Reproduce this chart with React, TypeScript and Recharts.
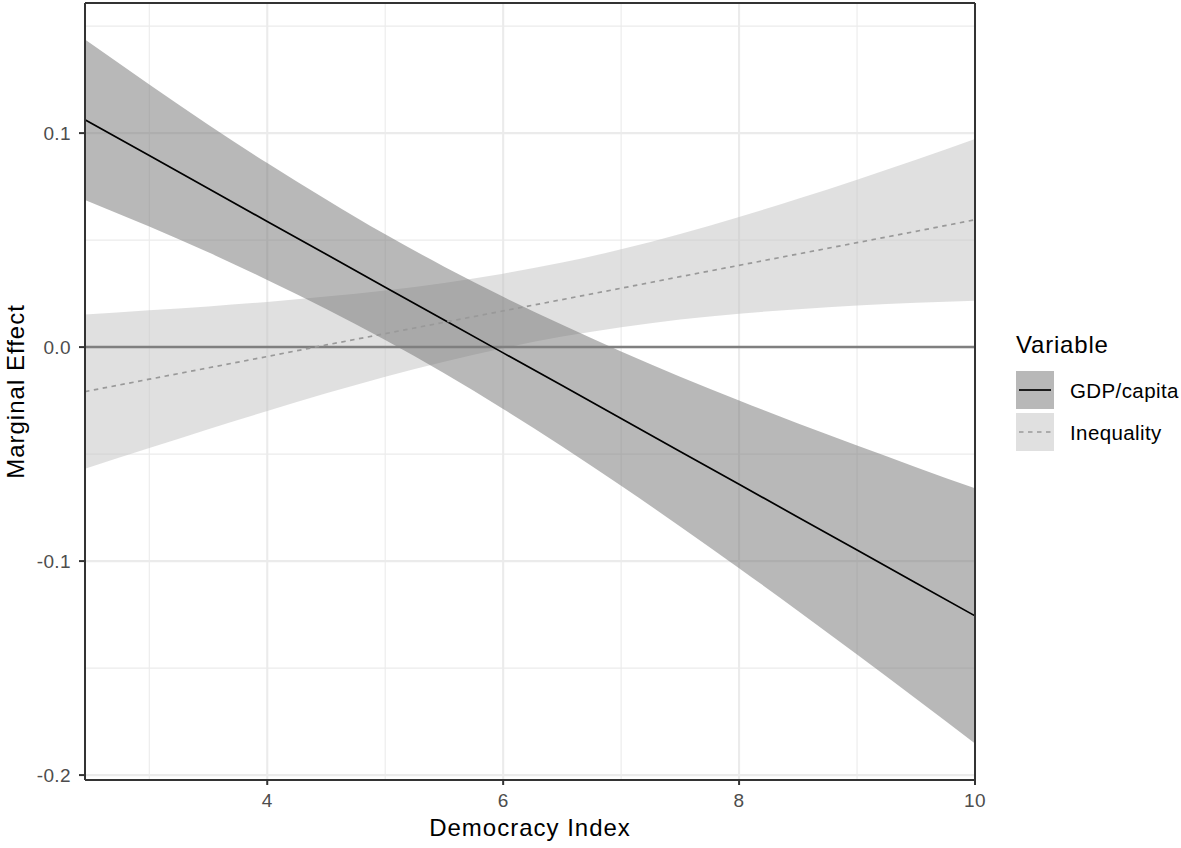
import { Area, CartesianGrid, ComposedChart, Line, ReferenceLine, XAxis, YAxis } from "recharts";

// democracy index values where the marginal effects were read
const democracyIndex = [2.455, 3, 3.5, 4, 4.5, 5, 5.5, 6, 6.5, 7, 7.5, 8, 8.5, 9, 9.5, 10];

const gdpEffect = [0.1062, 0.0895, 0.0741, 0.0587, 0.0434, 0.028, 0.0127, -0.0027, -0.018, -0.0334, -0.0488, -0.0641, -0.0795, -0.0948, -0.1102, -0.1256];
const gdpLower = [0.0687, 0.0563, 0.0443, 0.0314, 0.0178, 0.0033, -0.0122, -0.0289, -0.0464, -0.0648, -0.0838, -0.1033, -0.1233, -0.1436, -0.1643, -0.1852];
const gdpUpper = [0.1437, 0.1227, 0.1039, 0.086, 0.069, 0.0527, 0.0376, 0.0235, 0.0104, -0.002, -0.0138, -0.0249, -0.0357, -0.046, -0.0561, -0.066];

const inequalityEffect = [-0.0208, -0.015, -0.0097, -0.0044, 0.001, 0.0063, 0.0116, 0.0169, 0.0222, 0.0275, 0.0329, 0.0382, 0.0435, 0.0488, 0.0541, 0.0595];
const inequalityLower = [-0.0568, -0.0472, -0.0384, -0.0299, -0.0216, -0.0138, -0.0068, -0.0005, 0.0049, 0.0093, 0.0129, 0.0156, 0.0177, 0.0194, 0.0207, 0.0217];
const inequalityUpper = [0.0152, 0.0172, 0.019, 0.0211, 0.0236, 0.0264, 0.03, 0.0343, 0.0395, 0.0457, 0.0529, 0.0608, 0.0693, 0.0782, 0.0875, 0.0973];

const xDomain = [2.455, 10];
const yDomain = [-0.2023, 0.1608];
const xMajorTicks = [4, 6, 8, 10];
const xMinorTicks = [3, 5, 7, 9];
const yMajorTicks = [-0.2, -0.1, 0, 0.1];
const yMinorTicks = [-0.15, -0.05, 0.05, 0.15];

const legendItems = ["GDP/capita", "Inequality"];

const data = democracyIndex.map((x, i) => ({
  x,
  gdp: gdpEffect[i],
  gdpBand: [gdpLower[i], gdpUpper[i]],
  inequality: inequalityEffect[i],
  inequalityBand: [inequalityLower[i], inequalityUpper[i]]
}));

const FONT = '"Liberation Sans", Arial, sans-serif';
const GDP_FILL = "#717171";
const INEQ_FILL = "#c1c1c1";
const INEQ_LINE = "#999999";

function XTitle({ viewBox }: any) {
  const cx = viewBox.x + viewBox.width / 2;
  return (
    <text x={cx} y={836} textAnchor="middle" fontSize={24} letterSpacing={1} fill="#000" fontFamily={FONT}>
      Democracy Index
    </text>
  );
}

function YTitle({ viewBox }: any) {
  const cy = viewBox.y + viewBox.height / 2;
  const x = 23.5;
  return (
    <text
      x={x}
      y={cy}
      transform={`rotate(-90 ${x} ${cy})`}
      textAnchor="middle"
      fontSize={24}
      letterSpacing={1}
      fill="#000"
      fontFamily={FONT}
    >
      Marginal Effect
    </text>
  );
}

function LegendOverlay() {
  return (
    <svg width={1181} height={848} style={{ position: "absolute", left: 0, top: 0, pointerEvents: "none" }}>
      <text x={1016} y={353} fontSize={24} letterSpacing={0.8} fill="#000" fontFamily={FONT}>
        Variable
      </text>
      {legendItems.map((name, i) => {
        const top = 371 + i * 42;
        const mid = top + 19;
        return (
          <g key={name}>
            <rect x={1016} y={top} width={38} height={38} fill={i === 0 ? GDP_FILL : INEQ_FILL} fillOpacity={0.5} />
            <line
              x1={1019}
              x2={1051}
              y1={mid}
              y2={mid}
              stroke={i === 0 ? "#000" : INEQ_LINE}
              strokeWidth={1.7}
              strokeDasharray={i === 0 ? undefined : "4.5 4.5"}
            />
            <text x={1070} y={mid + 8} fontSize={20.5} letterSpacing={0.4} fill="#000" fontFamily={FONT}>
              {name}
            </text>
          </g>
        );
      })}
    </svg>
  );
}

export default function App() {
  const tickStyle = { fill: "#4d4d4d", fontSize: 19, fontFamily: FONT, letterSpacing: 0.4 };
  const dark = { stroke: "#333333", strokeWidth: 2 };
  return (
    <div style={{ position: "absolute", left: 0, top: 0, width: 1181, height: 848, background: "#fff", fontFamily: FONT }}>
      <ComposedChart width={1181} height={848} data={data} margin={{ top: 2, right: 205, bottom: 0, left: 0 }}>
        <XAxis xAxisId="minor" type="number" dataKey="x" domain={xDomain} ticks={xMinorTicks} allowDataOverflow hide />
        <YAxis yAxisId="minor" type="number" domain={yDomain} ticks={yMinorTicks} allowDataOverflow hide />
        <CartesianGrid xAxisId="minor" yAxisId="minor" stroke="#ebebeb" strokeWidth={1.1} />
        <CartesianGrid stroke="#ebebeb" strokeWidth={2.1} />

        <Area type="monotone" dataKey="inequalityBand" stroke="none" fill={INEQ_FILL} fillOpacity={0.5} isAnimationActive={false} activeDot={false} />
        <Area type="monotone" dataKey="gdpBand" stroke="none" fill={GDP_FILL} fillOpacity={0.5} isAnimationActive={false} activeDot={false} />
        <ReferenceLine y={0} stroke="#7f7f7f" strokeWidth={2.5} />
        <Line type="linear" dataKey="gdp" stroke="#000" strokeWidth={1.7} dot={false} activeDot={false} isAnimationActive={false} />
        <Line
          type="linear"
          dataKey="inequality"
          stroke={INEQ_LINE}
          strokeWidth={1.7}
          strokeDasharray="4.5 4.5"
          dot={false}
          activeDot={false}
          isAnimationActive={false}
        />

        <XAxis
          dataKey="x"
          type="number"
          domain={xDomain}
          ticks={xMajorTicks}
          interval={0}
          allowDataOverflow
          height={68}
          tickSize={5}
          tickMargin={9}
          tick={tickStyle}
          tickLine={dark}
          axisLine={dark}
          label={<XTitle />}
        />
        <YAxis
          type="number"
          domain={yDomain}
          ticks={yMajorTicks}
          interval={0}
          allowDataOverflow
          width={85}
          tickSize={6}
          tickMargin={8}
          tick={tickStyle}
          tickLine={dark}
          axisLine={dark}
          tickFormatter={(v: number) => v.toFixed(1)}
          label={<YTitle />}
        />
        <XAxis
          xAxisId="top"
          orientation="top"
          type="number"
          domain={xDomain}
          ticks={xMajorTicks}
          height={1}
          tick={false}
          tickLine={false}
          axisLine={dark}
          allowDataOverflow
        />
        <YAxis
          yAxisId="right"
          orientation="right"
          type="number"
          domain={yDomain}
          ticks={yMajorTicks}
          width={1}
          tick={false}
          tickLine={false}
          axisLine={dark}
          allowDataOverflow
        />
      </ComposedChart>
      <LegendOverlay />
    </div>
  );
}
